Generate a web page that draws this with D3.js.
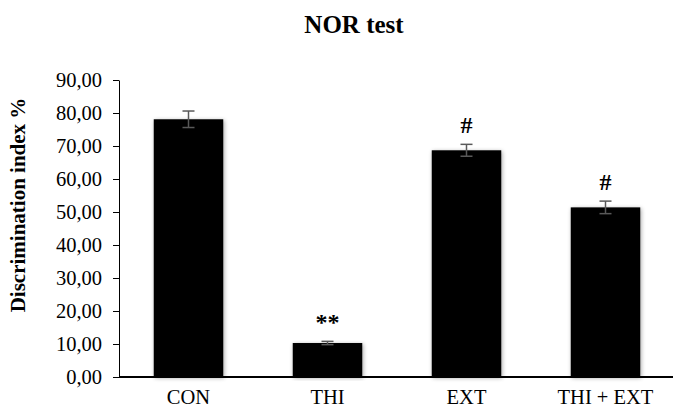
<!DOCTYPE html>
<html>
<head>
<meta charset="utf-8">
<script src="https://cdn.jsdelivr.net/npm/d3@7"></script>
<style>
  body { margin: 0; background: #fff; }
  svg text { font-family: "Liberation Serif", "Times New Roman", serif; fill: #000; }
</style>
</head>
<body>
<div id="chart"></div>
<script>
// data
var groups = ["CON", "THI", "EXT", "THI + EXT"];
var means = [78.1, 10.3, 68.7, 51.4];
var errors = [2.5, 0.5, 1.8, 1.9];
var marks = ["", "**", "#", "#"];
var yTicks = [0, 10, 20, 30, 40, 50, 60, 70, 80, 90];

var width = 673, height = 409;
var margin = { top: 80, right: 0, bottom: 32, left: 119 };

var svg = d3.select("#chart")
  .append("svg")
  .attr("width", width)
  .attr("height", height);

var defs = svg.append("defs");
var shadow = defs.append("filter")
  .attr("id", "shadow")
  .attr("x", "-20%").attr("y", "-10%")
  .attr("width", "140%").attr("height", "120%");
shadow.append("feGaussianBlur")
  .attr("in", "SourceAlpha")
  .attr("stdDeviation", 2);
shadow.append("feOffset").attr("dx", 1).attr("dy", 1).attr("result", "blur");
shadow.append("feComponentTransfer")
  .append("feFuncA").attr("type", "linear").attr("slope", 0.35);
var merge = shadow.append("feMerge");
merge.append("feMergeNode");
merge.append("feMergeNode").attr("in", "SourceGraphic");

var x = d3.scaleBand()
  .domain(groups)
  .range([margin.left, 675])
  .paddingInner(0.5)
  .paddingOuter(0.25);

var y = d3.scaleLinear()
  .domain([0, 90])
  .range([height - margin.bottom, margin.top]);

// title
svg.append("text")
  .attr("x", 354)
  .attr("y", 33)
  .attr("text-anchor", "middle")
  .style("font-size", "25px")
  .style("font-weight", "bold")
  .text("NOR test");

// y label
svg.append("text")
  .attr("transform", "translate(25,205) rotate(-90)")
  .attr("text-anchor", "middle")
  .style("font-size", "21px")
  .style("font-weight", "bold")
  .text("Discrimination index %");

// y axis
var yAxis = svg.append("g")
  .attr("transform", "translate(" + margin.left + ",0)")
  .call(d3.axisLeft(y)
    .tickValues(yTicks)
    .tickSize(6)
    .tickSizeOuter(0)
    .tickFormat(function(d) { return d3.format(".2f")(d).replace(".", ","); }));
yAxis.attr("font-family", null).attr("font-size", null);
yAxis.select(".domain").attr("stroke", "#000");
yAxis.selectAll(".tick line").attr("stroke", "#000");
yAxis.selectAll(".tick text")
  .attr("x", -17)
  .style("font-size", "20.5px");

// bars
svg.selectAll(".bar")
  .data(groups)
  .enter()
  .append("rect")
  .attr("class", "bar")
  .attr("x", function(d) { return x(d); })
  .attr("y", function(d, i) { return y(means[i]); })
  .attr("width", x.bandwidth())
  .attr("height", function(d, i) { return y(0) - y(means[i]); })
  .attr("fill", "#000")
  .attr("filter", "url(#shadow)");

// error bars
var eb = svg.selectAll(".err")
  .data(groups)
  .enter()
  .append("g")
  .attr("class", "err")
  .attr("stroke", "#595959")
  .attr("stroke-width", 1.5);
eb.append("line")
  .attr("x1", function(d) { return x(d) + x.bandwidth() / 2; })
  .attr("x2", function(d) { return x(d) + x.bandwidth() / 2; })
  .attr("y1", function(d, i) { return y(means[i] + errors[i]); })
  .attr("y2", function(d, i) { return y(means[i] - errors[i]); });
eb.append("line")
  .attr("x1", function(d) { return x(d) + x.bandwidth() / 2 - 6; })
  .attr("x2", function(d) { return x(d) + x.bandwidth() / 2 + 6; })
  .attr("y1", function(d, i) { return y(means[i] + errors[i]); })
  .attr("y2", function(d, i) { return y(means[i] + errors[i]); });
eb.append("line")
  .attr("x1", function(d) { return x(d) + x.bandwidth() / 2 - 6; })
  .attr("x2", function(d) { return x(d) + x.bandwidth() / 2 + 6; })
  .attr("y1", function(d, i) { return y(means[i] - errors[i]); })
  .attr("y2", function(d, i) { return y(means[i] - errors[i]); });

// significance marks
svg.selectAll(".mark")
  .data(groups)
  .enter()
  .append("text")
  .attr("class", "mark")
  .attr("x", function(d) { return x(d) + x.bandwidth() / 2; })
  .attr("y", function(d, i) { return y(means[i] + errors[i]) - 11; })
  .attr("text-anchor", "middle")
  .style("font-size", "24px")
  .style("font-weight", "bold")
  .text(function(d, i) { return marks[i]; });

// x axis
svg.append("line")
  .attr("x1", margin.left)
  .attr("x2", 673)
  .attr("y1", y(0))
  .attr("y2", y(0))
  .attr("stroke", "#000")
  .attr("stroke-width", 1.8);

svg.selectAll(".xlab")
  .data(groups)
  .enter()
  .append("text")
  .attr("class", "xlab")
  .attr("x", function(d) { return x(d) + x.bandwidth() / 2; })
  .attr("y", 404)
  .attr("text-anchor", "middle")
  .style("font-size", "20.5px")
  .text(function(d) { return d; });
</script>
</body>
</html>
